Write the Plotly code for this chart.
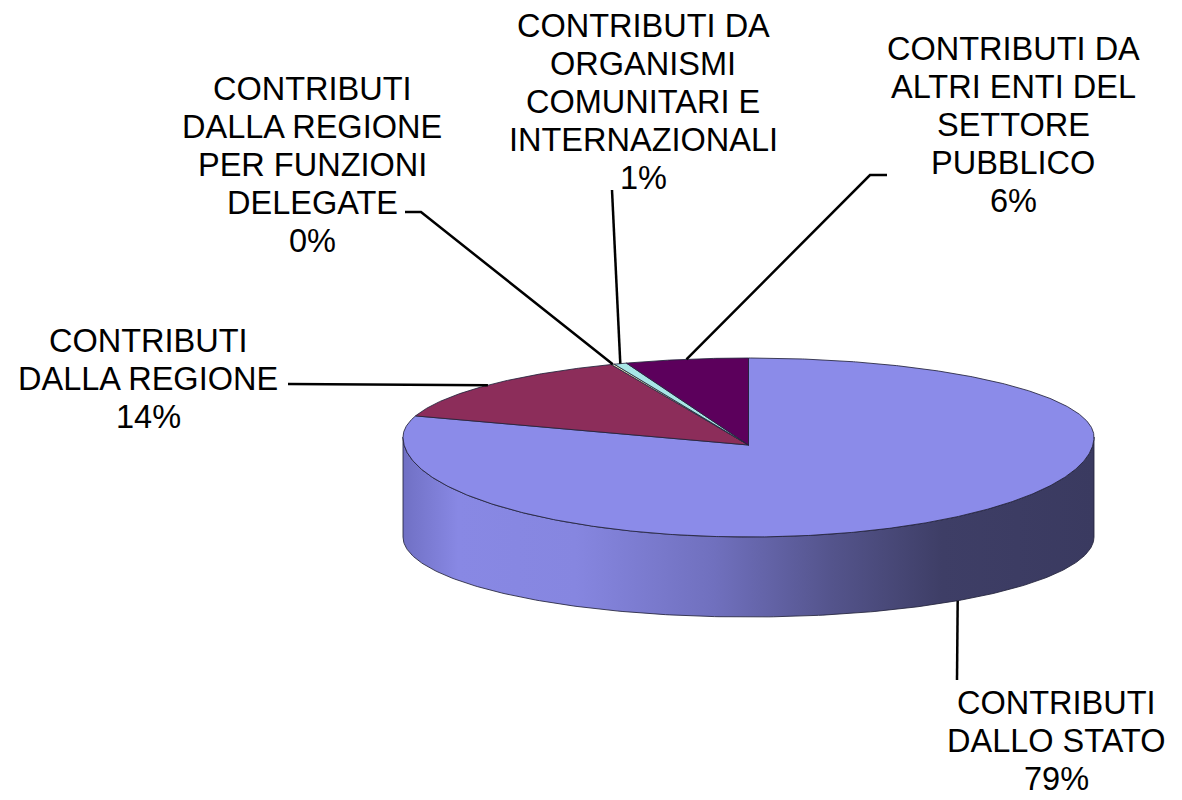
import numpy as np
import plotly.graph_objects as go

# ---------------- data ----------------
categories = [
    "CONTRIBUTI DALLO STATO",
    "CONTRIBUTI DALLA REGIONE",
    "CONTRIBUTI DALLA REGIONE PER FUNZIONI DELEGATE",
    "CONTRIBUTI DA ORGANISMI COMUNITARI E INTERNAZIONALI",
    "CONTRIBUTI DA ALTRI ENTI DEL SETTORE PUBBLICO",
]
values = [79.3, 14.2, 0.15, 0.6, 5.75]
label_lines = [
    ["CONTRIBUTI", "DALLO STATO"],
    ["CONTRIBUTI", "DALLA REGIONE"],
    ["CONTRIBUTI", "DALLA REGIONE", "PER FUNZIONI", "DELEGATE"],
    ["CONTRIBUTI DA", "ORGANISMI", "COMUNITARI E", "INTERNAZIONALI"],
    ["CONTRIBUTI DA", "ALTRI ENTI DEL", "SETTORE", "PUBBLICO"],
]

# ---------------- styling / layout ----------------
top_colors = ["#8B8BE9", "#8C2D5A", "#F2F2C0", "#A8E6E6", "#5C005C"]
W, H = 1182, 800
CX, CY = 748.5, 437.0
RX, RY_BACK, RY_FRONT = 345.5, 79.0, 100.0
APEX_Y = 445.0
DEPTH, RY_BOTTOM = 100.0, 80.0
FONT = dict(family="Liberation Sans, Arial, sans-serif", size=32.5, color="black")
LINE_GAP = 38
EDGE = "rgba(35,35,60,0.85)"

# label block anchor (centre x, centre y of first line) and leader start points
label_pos = [(1056, 703), (148, 341), (312, 88.5), (643, 25.5), (1013, 48.5)]
leader_start = [
    [(957, 680)],
    [(288, 384)],
    [(405, 212), (421, 212)],
    [(612, 190)],
    [(887, 175), (870, 175)],
]


def rim(theta_deg, level="top"):
    t = np.radians(np.asarray(theta_deg, dtype=float))
    c = np.cos(t)
    x = CX + RX * np.sin(t)
    if level == "top":
        ry = np.where(c >= 0, RY_BACK, RY_FRONT)
        y = CY - ry * c
    else:
        y = CY + DEPTH - RY_BOTTOM * c
    return x, y


fr = np.array(values) / np.sum(values)
bounds = np.concatenate([[0.0], np.cumsum(fr)]) * 360.0

fig = go.Figure()

# side wall (front half, visible)
th = np.linspace(90, 270, 240)
xt, yt = rim(th, "top")
xb, yb = rim(th[::-1], "bottom")
fig.add_trace(go.Scatter(
    x=np.concatenate([xt, xb, xt[:1]]), y=np.concatenate([yt, yb, yt[:1]]),
    mode="lines", fill="toself",
    fillgradient=dict(type="horizontal", colorscale=[
        [0.0, "rgb(112,112,196)"], [0.08, "rgb(136,136,228)"], [0.25, "rgb(134,134,224)"],
        [0.45, "rgb(112,112,190)"], [0.62, "rgb(84,84,140)"], [0.78, "rgb(62,62,102)"],
        [1.0, "rgb(58,58,96)"]]),
    line=dict(color=EDGE, width=1), hoverinfo="skip", showlegend=False,
))

# top face slices
for i, cat in enumerate(categories):
    a0, a1 = bounds[i], bounds[i + 1]
    n = max(3, int((a1 - a0) * 3))
    th = np.linspace(a0, a1, n)
    xs, ys = rim(th, "top")
    fig.add_trace(go.Scatter(
        x=np.concatenate([[CX], xs, [CX]]), y=np.concatenate([[APEX_Y], ys, [APEX_Y]]),
        mode="lines", fill="toself", fillcolor=top_colors[i],
        line=dict(color=EDGE, width=1), name=cat, hoverinfo="skip", showlegend=False,
    ))

# leader lines and labels
annotations = []
for i, cat in enumerate(categories):
    mid = (bounds[i] + bounds[i + 1]) / 2
    front = 90 < mid < 270
    ax_, ay_ = rim([mid], "bottom" if front else "top")
    pts = leader_start[i] + [(float(ax_[0]), float(ay_[0]))]
    fig.add_trace(go.Scatter(
        x=[p[0] for p in pts], y=[p[1] for p in pts], mode="lines",
        line=dict(color="black", width=2.5), hoverinfo="skip", showlegend=False,
    ))
    lines = label_lines[i] + [f"{round(fr[i] * 100):.0f}%"]
    x0, y0 = label_pos[i]
    for j, txt in enumerate(lines):
        annotations.append(dict(
            x=x0, y=y0 + j * LINE_GAP, xref="x", yref="y", text=txt,
            showarrow=False, xanchor="center", yanchor="middle", font=FONT,
        ))

fig.update_layout(
    width=W, height=H, margin=dict(l=0, r=0, t=0, b=0),
    paper_bgcolor="white", plot_bgcolor="white",
    xaxis=dict(range=[0, W], visible=False, fixedrange=True),
    yaxis=dict(range=[H, 0], visible=False, fixedrange=True),
    annotations=annotations, showlegend=False,
)

fig.write_html("out.html", config={"displayModeBar": False},
               post_script="document.body.style.margin='0';")
